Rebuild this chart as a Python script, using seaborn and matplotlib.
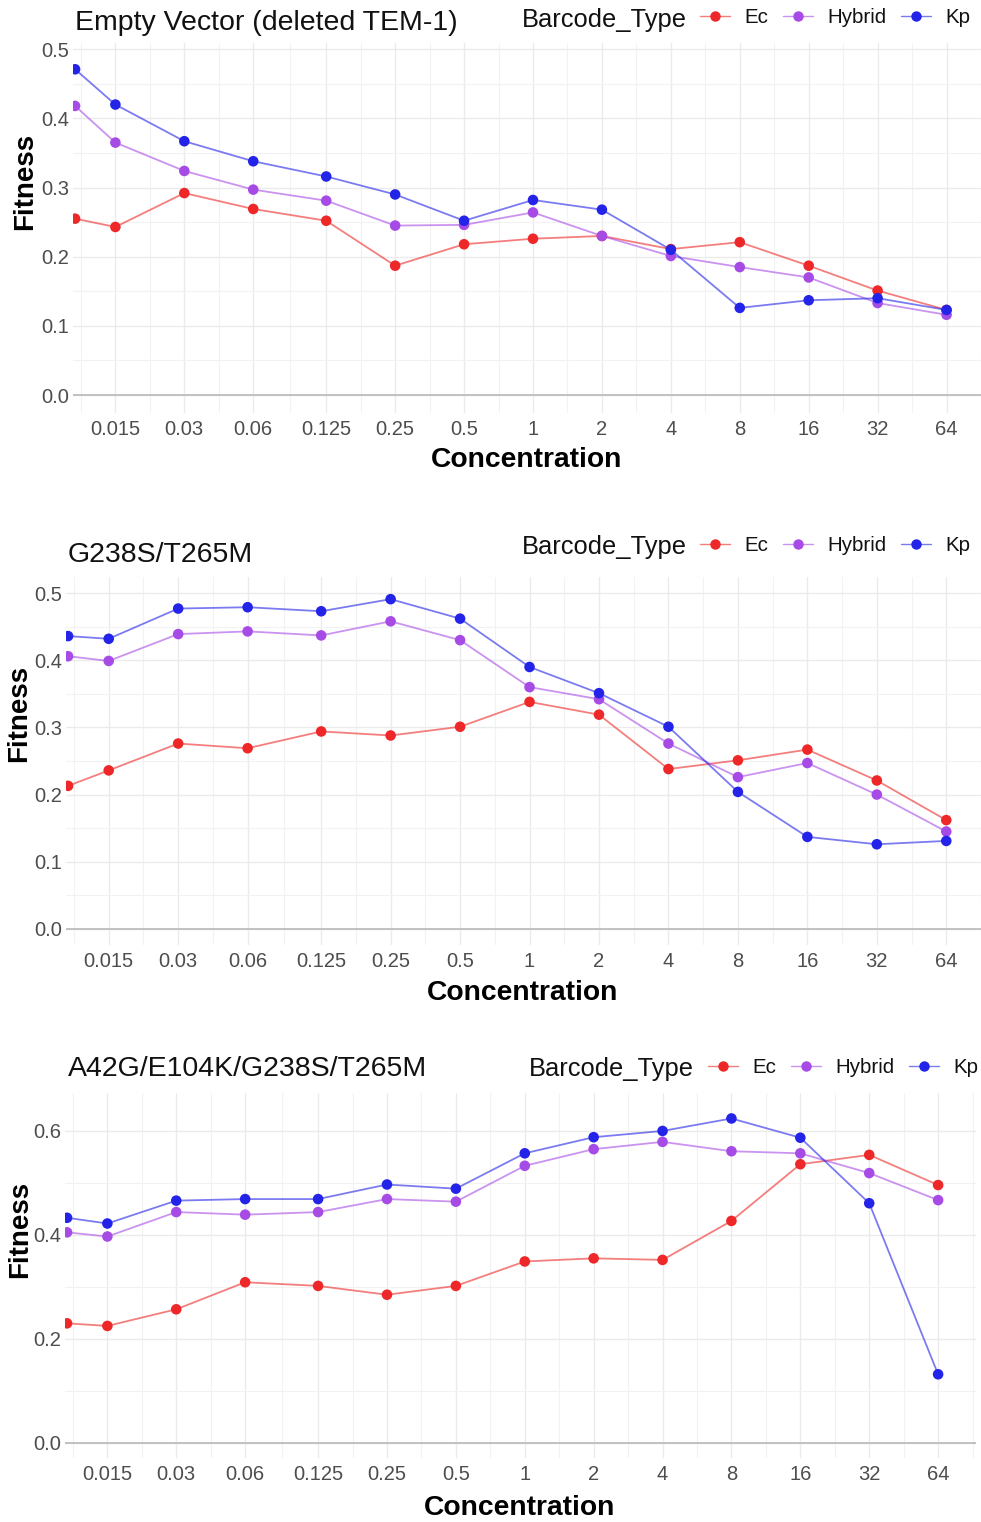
import numpy as np
import pandas as pd
import matplotlib
matplotlib.use("Agg")
import matplotlib.pyplot as plt
import seaborn as sns
from matplotlib.lines import Line2D
from matplotlib.ticker import FixedLocator, NullFormatter, FixedFormatter

# ---------------- data ----------------
concentrations = [0.01, 0.015, 0.03, 0.06, 0.125, 0.25, 0.5, 1, 2, 4, 8, 16, 32, 64]
tick_concs = [0.015, 0.03, 0.06, 0.125, 0.25, 0.5, 1, 2, 4, 8, 16, 32, 64]
tick_labels = ["0.015", "0.03", "0.06", "0.125", "0.25", "0.5", "1", "2", "4", "8", "16", "32", "64"]
barcode_types = ["Ec", "Hybrid", "Kp"]
panel_titles = ["Empty Vector (deleted TEM-1)", "G238S/T265M", "A42G/E104K/G238S/T265M"]

ev_ec = [0.255, 0.243, 0.292, 0.269, 0.252, 0.187, 0.218, 0.226, 0.230, 0.211, 0.221, 0.187, 0.151, 0.123]
ev_hybrid = [0.418, 0.365, 0.324, 0.297, 0.281, 0.245, 0.246, 0.264, 0.230, 0.201, 0.185, 0.170, 0.133, 0.116]
ev_kp = [0.471, 0.420, 0.367, 0.338, 0.316, 0.290, 0.252, 0.282, 0.268, 0.210, 0.126, 0.137, 0.140, 0.123]

dm_ec = [0.213, 0.236, 0.276, 0.269, 0.294, 0.288, 0.301, 0.338, 0.319, 0.238, 0.251, 0.267, 0.221, 0.162]
dm_hybrid = [0.406, 0.399, 0.439, 0.443, 0.437, 0.458, 0.430, 0.360, 0.342, 0.276, 0.226, 0.247, 0.200, 0.145]
dm_kp = [0.436, 0.432, 0.477, 0.479, 0.473, 0.491, 0.462, 0.390, 0.351, 0.301, 0.204, 0.137, 0.126, 0.131]

qm_ec = [0.230, 0.225, 0.257, 0.309, 0.302, 0.285, 0.302, 0.349, 0.355, 0.352, 0.427, 0.536, 0.554, 0.496]
qm_hybrid = [0.405, 0.397, 0.444, 0.439, 0.444, 0.469, 0.464, 0.533, 0.565, 0.579, 0.561, 0.557, 0.519, 0.467]
qm_kp = [0.433, 0.422, 0.466, 0.469, 0.469, 0.497, 0.489, 0.557, 0.588, 0.600, 0.624, 0.587, 0.461, 0.132]

panel_series = [
    {"Ec": ev_ec, "Hybrid": ev_hybrid, "Kp": ev_kp},
    {"Ec": dm_ec, "Hybrid": dm_hybrid, "Kp": dm_kp},
    {"Ec": qm_ec, "Hybrid": qm_hybrid, "Kp": qm_kp},
]
y_ticks = [[0.0, 0.1, 0.2, 0.3, 0.4, 0.5], [0.0, 0.1, 0.2, 0.3, 0.4, 0.5], [0.0, 0.2, 0.4, 0.6]]
y_labels = [["0.0", "0.1", "0.2", "0.3", "0.4", "0.5"], ["0.0", "0.1", "0.2", "0.3", "0.4", "0.5"],
            ["0.0", "0.2", "0.4", "0.6"]]

# ---------------- style ----------------
sns.set_theme(style="white")
plt.rcParams["font.family"] = ["Liberation Sans", "DejaVu Sans"]

point_colors = {"Ec": "#EE2828", "Hybrid": "#A74BE6", "Kp": "#2424E8"}
line_alpha = 0.6

W, H = 981, 1522
fig = plt.figure(figsize=(W / 100, H / 100), dpi=100)


def fx(x):
    return x / W


def fy(y):
    return 1 - y / H


layouts = [
    dict(l=73, r=981, t=43, b=413, ylo=-0.026, yhi=0.509, rpad=0.50,
         title_xy=(75, 29.5), leg_title_xy=(522, 27), leg_xy=(700, 17.5),
         xlab_xy=(527, 466.5), ylab_xy=(25, 181)),
    dict(l=66, r=981, t=577, b=945, ylo=-0.024, yhi=0.524, rpad=0.50,
         title_xy=(68, 561.5), leg_title_xy=(522, 554), leg_xy=(700, 545.5),
         xlab_xy=(523, 1000), ylab_xy=(19, 713)),
    dict(l=65, r=976, t=1093, b=1458, ylo=-0.029, yhi=0.673, rpad=0.55,
         title_xy=(68, 1076.5), leg_title_xy=(529, 1076), leg_xy=(708, 1067.5),
         xlab_xy=(520, 1515), ylab_xy=(20, 1229)),
]

t = np.array(tick_concs)
minor_x = list(np.sqrt(t[:-1] * t[1:]))
minor_x = [t[0] / np.sqrt(t[1] / t[0])] + minor_x + [t[-1] * np.sqrt(t[-1] / t[-2])]

for i, lay in enumerate(layouts):
    ax = fig.add_axes([fx(lay["l"]), fy(lay["b"]), fx(lay["r"] - lay["l"]), (lay["b"] - lay["t"]) / H])
    series = panel_series[i]
    rows = []
    for bt in barcode_types:
        for c, v in zip(concentrations, series[bt]):
            rows.append({"Concentration": c, "Fitness": v, "Barcode_Type": bt})
    df = pd.DataFrame(rows)

    ax.axhline(0, color="#BDBDBD", lw=1.3, zorder=1)
    sns.lineplot(data=df, x="Concentration", y="Fitness", hue="Barcode_Type",
                 hue_order=barcode_types, palette=point_colors, lw=1.3, alpha=line_alpha,
                 legend=False, ax=ax, zorder=2)
    sns.scatterplot(data=df, x="Concentration", y="Fitness", hue="Barcode_Type",
                    hue_order=barcode_types, palette=point_colors, s=58, linewidth=0,
                    legend=False, ax=ax, zorder=3)

    ax.set_xscale("log", base=2)
    ax.set_xlim(concentrations[0] * 2 ** (-0.03), tick_concs[-1] * 2 ** lay["rpad"])
    ax.set_ylim(lay["ylo"], lay["yhi"])

    ax.xaxis.set_major_locator(FixedLocator(tick_concs))
    ax.xaxis.set_major_formatter(FixedFormatter(tick_labels))
    ax.xaxis.set_minor_locator(FixedLocator(minor_x))
    ax.xaxis.set_minor_formatter(NullFormatter())

    yt = y_ticks[i]
    ax.yaxis.set_major_locator(FixedLocator(yt))
    ax.yaxis.set_major_formatter(FixedFormatter(y_labels[i]))
    step = yt[1] - yt[0]
    ax.yaxis.set_minor_locator(FixedLocator([v + step / 2 for v in yt]))

    ax.grid(which="major", color="#EBEBEB", lw=1.0, zorder=0)
    ax.grid(which="minor", color="#F2F2F2", lw=0.8, zorder=0)
    ax.set_axisbelow(True)
    for s in ax.spines.values():
        s.set_visible(False)
    ax.tick_params(which="both", length=0)
    ax.tick_params(axis="x", labelsize=14.5, labelcolor="#4D4D4D", pad=5)
    ax.tick_params(axis="y", labelsize=14.5, labelcolor="#4D4D4D", pad=3)
    ax.set_xlabel("")
    ax.set_ylabel("")

    fig.text(fx(lay["title_xy"][0]), fy(lay["title_xy"][1]), panel_titles[i],
             fontsize=20.5, ha="left", va="baseline", color="#111111")
    fig.text(fx(lay["xlab_xy"][0]), fy(lay["xlab_xy"][1]), "Concentration",
             fontsize=20.3, fontweight="bold", ha="center", va="baseline", color="black")
    fig.text(fx(lay["ylab_xy"][0]), fy(lay["ylab_xy"][1]), "Fitness", rotation=90,
             fontsize=20, fontweight="bold", ha="center", va="center", color="black")
    fig.text(fx(lay["leg_title_xy"][0]), fy(lay["leg_title_xy"][1]), "Barcode_Type",
             fontsize=18.4, ha="left", va="baseline", color="#111111")

    handles = []
    for bt in barcode_types:
        c = point_colors[bt]
        rgba = matplotlib.colors.to_rgba(c, line_alpha)
        handles.append(Line2D([], [], color=rgba, lw=1.0, marker="o", markersize=7.5,
                              markerfacecolor=c, markeredgecolor=c, markeredgewidth=0))
    leg = fig.legend(handles, barcode_types, loc="center left",
                     bbox_to_anchor=(fx(lay["leg_xy"][0]), fy(lay["leg_xy"][1])),
                     ncol=3, frameon=False, fontsize=14.8, handlelength=1.45,
                     handletextpad=0.72, columnspacing=0.7, borderpad=0, borderaxespad=0)
    for txt in leg.get_texts():
        txt.set_color("#111111")

fig.savefig("out.png", dpi=100)
